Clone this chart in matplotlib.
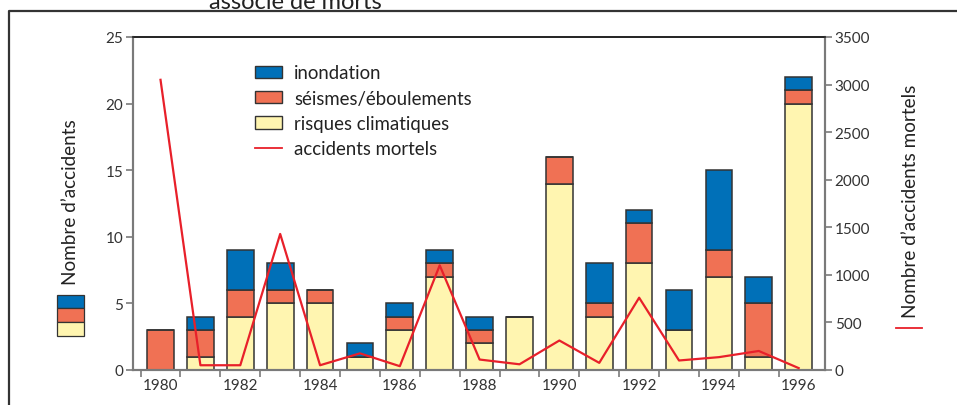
import matplotlib.pyplot as plt
import matplotlib.patches as patches
from matplotlib.lines import Line2D
import numpy as np

plt.rcParams['font.family'] = ['Lato', 'DejaVu Sans']

# --- Données ---
annees = [1980, 1981, 1982, 1983, 1984, 1985, 1986, 1987, 1988,
          1989, 1990, 1991, 1992, 1993, 1994, 1995, 1996]
climatiques = [0, 1, 4, 5, 5, 1, 3, 7, 2, 4, 14, 4, 8, 3, 7, 1, 20]
seismes = [3, 2, 2, 1, 1, 0, 1, 1, 1, 0, 2, 1, 3, 0, 2, 4, 1]
inondation = [0, 1, 3, 2, 0, 1, 1, 1, 1, 0, 0, 3, 1, 3, 6, 2, 1]
morts = [3050, 50, 50, 1430, 50, 175, 40, 1100, 110, 60, 310, 75, 760, 100, 135, 200, 20]

c_bleu = '#0070b8'
c_orange = '#f07154'
c_jaune = '#fff5b0'
c_rouge = '#e8202a'
c_bord = '#333333'
c_axe = '#7a7a7a'

fig = plt.figure(figsize=(9.57, 4.06), dpi=100)
W, H = 957, 406

def fx(px):
    return px / W

def fy(py):
    return 1 - py / H

ax = fig.add_axes([fx(133), fy(371), fx(825) - fx(133), fy(38) - fy(371)])
ax2 = ax.twinx()

x = np.arange(len(annees))
bas2 = np.array(climatiques)
bas3 = bas2 + np.array(seismes)
larg = 0.67
ax.bar(x, climatiques, larg, color=c_jaune, edgecolor=c_bord, linewidth=1.1, zorder=2)
ax.bar(x, seismes, larg, bottom=bas2, color=c_orange, edgecolor=c_bord, linewidth=1.1, zorder=2)
ax.bar(x, inondation, larg, bottom=bas3, color=c_bleu, edgecolor=c_bord, linewidth=1.1, zorder=2)

ax2.plot(x, morts, color=c_rouge, linewidth=1.6, zorder=3)

ax.set_xlim(-0.69, 16.66)
ax.set_ylim(0, 25)
ax2.set_ylim(0, 3500)
ax.set_yticks(range(0, 26, 5))
ax2.set_yticks(range(0, 3501, 500))

ax.set_xticks(x[::2])
ax.set_xticklabels([str(a) for a in annees[::2]])
ax.set_xticks(np.arange(-0.5, 16, 1), minor=True)
ax.tick_params(axis='x', which='major', length=0, pad=6, labelsize=11, labelcolor='#333333')
ax.tick_params(axis='x', which='minor', length=5, width=1.2, color=c_axe, direction='out')
ax.tick_params(axis='y', length=5, width=1.2, color=c_axe, labelsize=11, labelcolor='#333333', pad=2)
ax2.tick_params(axis='y', length=5, width=1.2, color=c_axe, labelsize=11, labelcolor='#333333', pad=2)

for a in (ax, ax2):
    a.spines['left'].set_color(c_axe)
    a.spines['right'].set_color(c_axe)
    a.spines['bottom'].set_color(c_axe)
    a.spines['left'].set_linewidth(1.5)
    a.spines['right'].set_linewidth(1.5)
    a.spines['bottom'].set_linewidth(1.5)
    a.spines['top'].set_color('#222222')
    a.spines['top'].set_linewidth(1.2)

# Légende
handles = [patches.Patch(facecolor=c_bleu, edgecolor=c_bord, linewidth=1),
           patches.Patch(facecolor=c_orange, edgecolor=c_bord, linewidth=1),
           patches.Patch(facecolor=c_jaune, edgecolor=c_bord, linewidth=1),
           Line2D([], [], color=c_rouge, linewidth=1.3)]
labels = ['inondation', 'séismes/éboulements', 'risques climatiques', 'accidents mortels']
ax2.legend(handles, labels, loc='upper left', bbox_to_anchor=(0.176, 0.918),
           frameon=False, fontsize=13.4, borderpad=0, borderaxespad=0,
           handlelength=1.45, handleheight=0.65, handletextpad=0.65,
           labelspacing=0.45, labelcolor='#222222')

# Titres des axes
fig.text(fx(70), fy(202), 'Nombre d’accidents', rotation=90, ha='center', va='center',
         fontsize=13.6, color='#222222')
fig.text(fx(910), fy(201), 'Nombre d’accidents mortels', rotation=90, ha='center', va='center',
         fontsize=13.6, color='#222222')

# Petites icônes sous les titres
for y0, y1, c in [(296, 309, c_bleu), (309, 323, c_orange), (323, 337, c_jaune)]:
    fig.add_artist(patches.Rectangle((fx(57), fy(y1)), fx(84) - fx(57), fy(y0) - fy(y1),
                                     transform=fig.transFigure, facecolor=c, edgecolor=c_bord,
                                     linewidth=0.9))
fig.add_artist(Line2D([fx(896), fx(922)], [fy(329), fy(329)], transform=fig.transFigure,
                      color=c_rouge, linewidth=1.3))

# Cadre et titre coupé
fig.add_artist(Line2D([fx(9), fx(9), fx(957)], [0, fy(12), fy(12)], transform=fig.transFigure,
                      color='#333333', linewidth=1.6))
fig.text(fx(295), fy(9), 'associé de morts', ha='center', va='baseline', fontsize=17,
         color='#222222')

fig.savefig('out.png', dpi=100)
